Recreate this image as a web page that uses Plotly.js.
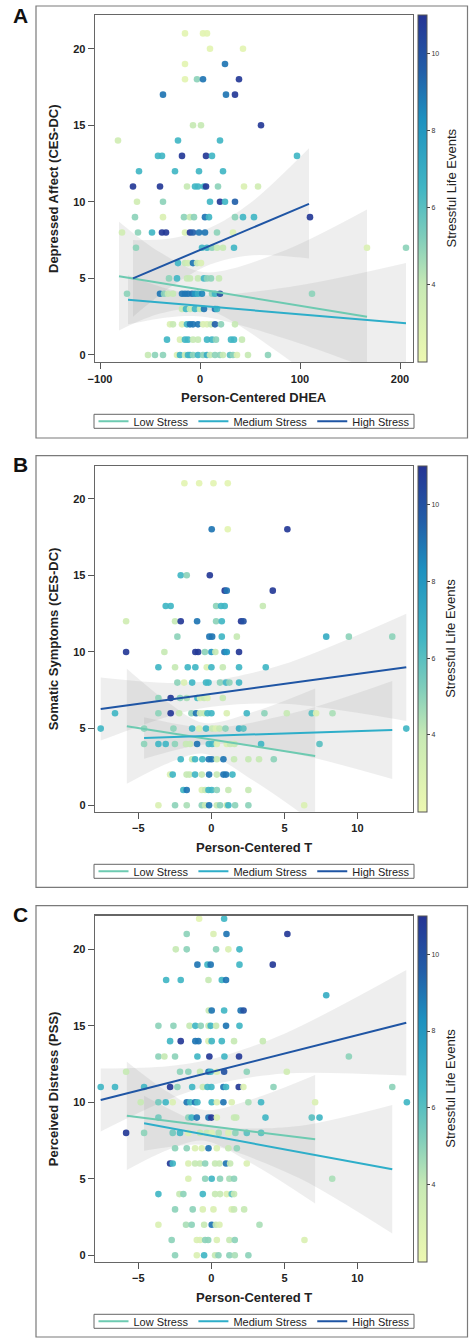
<!DOCTYPE html>
<html><head><meta charset="utf-8">
<script src="https://cdn.plot.ly/plotly-3.0.1.min.js"></script>
<style>html,body{margin:0;padding:0;background:#fff}#chart{width:469px;height:1338px}</style>
</head><body><div id="chart"></div>
<script>
const W = 469, H = 1338;
const FONT = 'Liberation Sans, Arial, Helvetica, sans-serif';

const stressGroups = ['Low Stress', 'Medium Stress', 'High Stress'];
const groupColors = ['#6dcab1', '#2eaec9', '#1f55a4'];
const panelLetters = ['A', 'B', 'C'];
const yTitles = ['Depressed Affect (CES-DC)', 'Somatic Symptoms (CES-DC)', 'Perceived Distress (PSS)'];
const xTitles = ['Person-Centered DHEA', 'Person-Centered T', 'Person-Centered T'];
const colorbarTitle = 'Stressful Life Events';
const xTicksA = [-100, 0, 100, 200];
const xTicksBC = [-5, 0, 5, 10];
const yTicks = [0, 5, 10, 15, 20];
const cbTicks = [4, 6, 8, 10];

// [x, y, stressful life events]
const pointsA = [
[-15,21,2.5],[3,21,2.5],[7,21,2.5],
[10,20,2.5],[43,20,2.5],
[-15,19,2.5],[25,19,9],
[-15,18,2.5],[-3,18,5],[3,18,9],[39,18,10.8],
[-37,17,9],[26,17,9],[35,17,10.8],
[-7,15,4],[1,15,4],[61,15,10.8],
[-82,14,3.5],[-22,14,6.5],[20,14,6.5],
[-42,13,6.5],[-38,13,6.5],[-18,13,10.8],[6,13,10.8],[12,13,6.5],[97,13,6.5],
[-61,12,6.5],[-25,12,6.5],[-1,12,6.5],[23,12,6.5],
[-67,11,10.8],[-40,11,10.8],[-13,11,4],[-5,11,6.5],[-2,11,6.5],[4,11,6.5],[6,11,10.8],[18,11,5],[44,11,3],[58,11,3.5],
[-63,10,3.5],[-37,10,5],[10,10,6.5],[20,10,10.8],[25,10,6.5],[35,10,9.5],
[-65,9,5],[-37,9,3],[-16,9,5],[-10,9,4],[-6,9,5],[5,9,9],[9,9,6.5],[35,9,5],[43,9,6.5],[54,9,6.5],[110,9,10.8],
[-78,8,3.5],[-62,8,5],[-48,8,6.5],[-38,8,10.8],[-34,8,10.8],[-15,8,3],[-10,8,10.8],[-7,8,9.5],[-1,8,9],[5,8,9],[17,8,5],[33,8,3],
[-64,7,5],[2,7,6.5],[7,7,6.5],[12,7,5],[17,7,4],[23,7,4],[34,7,6.5],[167,7,3],[206,7,5],
[-22,6,6.5],[-15,6,4],[-12,6,3.5],[-7,6,9],[-3,6,4],[1,6,3],
[-31,5,5],[-23,5,6.5],[-13,5,4],[-10,5,4],[-2,5,4],[4,5,6.5],[7,5,5],[11,5,5],[19,5,4],
[-73,4,5],[-40,4,9],[-36,4,5],[-32,4,4],[-27,4,4],[-18,4,9],[-15,4,9],[-12,4,9],[-8,4,9],[-5,4,8],[-2,4,7],[2,4,8.5],[12,4,5],[15,4,6.5],[20,4,10],[112,4,5],
[-18,3,4],[-14,3,6.5],[-10,3,4],[-5,3,6.5],[0,3,4],[4,3,9],[15,3,9],[17,3,6.5],
[-30,2,3],[-27,2,4],[-18,2,3],[-13,2,6.5],[-10,2,9],[-7,2,9],[-2,2,9],[3,2,3],[7,2,3],[11,2,4],[15,2,9.5],[21,2,5],[35,2,4],
[-33,1,6.5],[-20,1,3],[-15,1,6.5],[-12,1,6.5],[-7,1,4],[-2,1,4],[7,1,6.5],[12,1,6.5],[16,1,5],[31,1,6.5],[34,1,6.5],[42,1,4],
[-52,0,4],[-45,0,5],[-37,0,5],[-23,0,3],[-20,0,6.5],[-15,0,4],[-12,0,6.5],[-10,0,6.5],[-7,0,5],[-2,0,6.5],[3,0,5],[7,0,7],[10,0,4],[15,0,5],[20,0,5],[23,0,4],[30,0,6],[33,0,5],[37,0,3],[48,0,4],[68,0,5]
];

const pointsB = [
[-1.85,21,2.5],[-0.84,21,2.5],[0.14,21,2.5],[1.12,21,2.5],
[0.02,18,9],[1.12,18,2.5],[5.2,18,10.8],
[-2.1,15,6.5],[-1.69,15,5],[-0.11,15,10.8],
[0.91,14,10.8],[1.05,14,9],[4.2,14,10.8],
[-3.13,13,6.5],[-2.79,13,6.5],[0.32,13,5],[0.66,13,6.5],[0.91,13,6.5],[3.52,13,4],
[-5.84,12,3.5],[-2.49,12,4],[-2.1,12,10.8],[-0.98,12,9],[0.32,12,5],[0.71,12,6.5],[2.03,12,10.8],[2.19,12,10],
[-2.33,11,5],[-0.14,11,9],[0.05,11,9],[0.71,11,6.5],[1.74,11,4],[7.86,11,7],[9.41,11,5],[12.38,11,5],
[-5.84,10,10.8],[-3.22,10,4],[-1.1,10,10.8],[-0.91,10,10.8],[-0.45,10,5],[0,10,8],[0.27,10,4],[0.89,10,9],[1.05,10,8],[1.89,10,10.8],
[-3.63,9,6.5],[-2.49,9,4],[-1.62,9,6.5],[-1.1,9,6.5],[-0.32,9,3],[0,9,6.5],[0.78,9,4],[1.89,9,6.5],[3.72,9,6.5],
[-2.33,8,5],[-1.87,8,3],[-1.32,8,6.5],[-0.37,8,6.5],[-0.2,8,6.5],[0.59,8,5],[1.0,8,6.5],[1.23,8,5],[1.89,8,6.5],
[-3.63,7,5],[-2.79,7,10.8],[-2.15,7,5],[-1.69,7,4.5],[-0.96,7,6.5],[-0.78,7,3],[-0.5,7,4],[-0.27,7,3],[0.78,7,4],
[-6.6,6,6.5],[-3.63,6,5],[-2.79,6,10.8],[-2.21,6,4],[-1.37,6,5],[-1.05,6,9],[-0.78,6,4],[-0.5,6,4],[-0.27,6,6.5],[0,6,6.5],[1.05,6,3],[2.42,6,6.5],[3.63,6,5],[5.16,6,4],[6.87,6,6],[7.17,6,3],[8.29,6,4.5],
[-7.58,5,6.5],[-4.61,5,5],[-2.6,5,5],[-1.32,5,6.5],[-0.84,5,3],[-0.37,5,6.5],[0.05,5,4],[0.3,5,3],[0.55,5,4],[0.96,5,5],[1.89,5,7],[2.19,5,6],[13.34,5,6.5],
[-4.61,4,5],[-3.63,4,6.5],[-3.13,4,6.5],[-2.5,4,5],[-1.74,4,4],[-1.46,4,4],[-0.98,4,9],[-0.18,4,6.5],[0.05,4,6.5],[0.37,4,3],[1.05,4,3],[1.28,4,4],[1.58,4,4],[3.4,4,6.5],[7.4,4,6],
[-2.1,3,6.5],[-1.32,3,4],[-1.12,3,6.5],[-0.62,3,6.5],[-0.18,3,9],[0.02,3,9],[0.37,3,4],[0.82,3,9],[1.55,3,4],[2.53,3,4],[3.26,3,4],[4.27,3,5],
[-2.83,2,3],[-2.65,2,6.5],[-1.7,2,4],[-1.5,2,4],[-1.12,2,6.5],[-0.66,2,4],[-0.16,2,9],[0.37,2,4],[0.82,2,9],[1.0,2,9],[1.44,2,6.5],
[-1.92,1,6.5],[-1.69,1,9],[-0.66,1,3],[-0.43,1,4],[-0.2,1,6.5],[0.02,1,6.5],[0.37,1,5],[1.16,1,4],[2.53,1,4],
[-3.63,0,3],[-2.49,0,5],[-1.69,0,4.5],[-0.66,0,5],[-0.43,0,4],[-0.16,0,9],[0.37,0,4],[0.59,0,5],[1.05,0,4],[1.16,0,6.5],[1.62,0,5],[2.53,0,5],[6.35,0,3]
];

const pointsC = [
[-0.84,22,2.5],[0.87,22,6.5],
[-1.69,21,5],[0.14,21,3],[1.03,21,9],[5.2,21,10.8],
[-2.44,20,4],[-1.69,20,5],[0.32,20,5],[1.16,20,3],[1.92,20,6.5],
[-0.96,19,9],[-0.27,19,6.5],[-0.05,19,9],[1.92,19,6.5],[4.2,19,10.8],
[-3.1,18,6.5],[-2.1,18,6.5],[-0.2,18,4],[0.71,18,6.5],[1.0,18,9],
[7.86,17,7],
[-0.18,16,4],[0.02,16,9],[0.87,16,6.5],[2.0,16,9],[2.2,16,10],
[-3.63,15,5],[-2.6,15,5],[-1.5,15,4],[-1.1,15,6.5],[-0.73,15,5],[-0.2,15,4],[-0.05,15,6.5],[0.32,15,4],[1.0,15,9],[1.92,15,6.5],
[-2.83,14,6.5],[-2.1,14,10.8],[-1.1,14,9],[-0.89,14,9],[-0.2,14,3],[0.02,14,6.5],[0.71,14,6.5],[1.55,14,4],[3.52,14,4],
[-3.63,13,5],[-3.22,13,4],[-2.49,13,5],[-0.96,13,6.5],[-0.14,13,10.8],[0.89,13,6.5],[1.89,13,10.8],[9.41,13,5],
[-5.84,12,4],[-2.15,12,5],[-1.58,12,5],[-0.78,12,4],[-0.2,12,9],[-0.05,12,6.5],[0.37,12,3],[0.87,12,10],[2.42,12,5],[5.16,12,3.5],
[-7.58,11,6.5],[-6.6,11,6.5],[-4.61,11,6.5],[-2.83,11,10.8],[-2.33,11,5],[-1.32,11,6.5],[-0.59,11,4],[-0.27,11,6.5],[0.0,11,6.5],[0.82,11,9],[1.0,11,6.5],[1.87,11,10.8],[2.19,11,3],[4.25,11,5],[12.38,11,5],
[-4.84,10,4],[-3.63,10,5.5],[-3.13,10,6.5],[-2.65,10,3],[-1.69,10,9],[-1.45,10,6.5],[-1.12,10,9],[-0.96,10,6.5],[0.02,10,6.5],[0.37,10,3],[0.82,10,9],[1.39,10,3],[2.53,10,4.5],[3.4,10,6.5],[7.1,10,3],[13.38,10,6.5],
[-3.63,9,5.5],[-1.58,9,5],[-1.35,9,6.5],[-1.0,9,9],[-0.2,9,9],[0.0,9,10.8],[0.37,9,3],[1.55,9,4],[1.7,9,4],[3.7,9,6.5],[6.87,9,6],[7.4,9,6.5],
[-5.84,8,10.8],[-4.61,8,5],[-2.65,8,5.5],[-2.15,8,6.5],[-1.58,8,3],[-0.78,8,4],[-0.32,8,4],[0.02,8,3],[0.5,8,4.5],[1.16,8,3],[1.64,8,5],[2.42,8,6],[3.4,8,6],
[-2.49,7,5],[-1.69,7,5],[-1.12,7,3],[-0.66,7,3],[-0.2,7,9],[0.37,7,3],[1.16,7,4],[1.74,7,5],
[-2.83,6,10.8],[-2.65,6,6.5],[-1.58,6,3],[-1.12,6,4],[-0.78,6,4],[-0.43,6,5],[0.25,6,4],[0.55,6,4],[1.0,6,9],[1.28,6,4],[2.42,6,3],
[-1.58,5,3],[-0.43,5,5],[0.02,5,6.5],[0.59,5,5],[1.23,5,4.5],[1.55,5,5],[8.27,5,4.5],
[-3.63,4,6.5],[-2.19,4,4],[-1.92,4,5],[-0.59,4,6.5],[0.25,4,4],[0.59,4,4],[1.05,4,3],[1.39,4,6],[1.55,4,4],
[-2.49,3,5],[-1.28,3,5],[-0.59,3,3],[0.14,3,3],[1.39,3,3],[1.55,3,4],[2.24,3,4],
[-3.63,2,3],[-1.74,2,4.5],[-1.35,2,5],[-0.5,2,4],[0.02,2,9],[0.3,2,4],[0.55,2,3],[3.29,2,4.5],
[-2.72,1,5],[-1.0,1,3],[-0.78,1,3],[-0.43,1,5],[-0.22,1,5],[0.37,1,3],[1.23,1,4],[1.6,1,5],[6.37,1,3],
[-2.49,0,5],[-1.0,0,3],[-0.5,0,6.5],[0.25,0,4],[0.48,0,5],[1.23,0,5],[1.6,0,4.5],[2.53,0,5]
];

// Fitted lines per group (Low, Medium, High): endpoints
const fitA_x = [[-81, 167], [-72, 206], [-67, 109]];
const fitA_y = [[5.14, 2.5], [3.6, 2.07], [5.0, 9.87]];
const fitB_x = [[-5.79, 7.1], [-4.61, 12.38], [-7.58, 13.34]];
const fitB_y = [[5.15, 3.22], [4.39, 4.91], [6.28, 9.0]];
const fitC_x = [[-5.79, 7.1], [-4.61, 12.38], [-7.58, 13.34]];
const fitC_y = [[9.12, 7.58], [8.63, 5.62], [10.15, 15.2]];

// Confidence bands per group
const bandA_x  = [[-81,-40,5,80,167], [-72,-30,5,100,206], [-67,-30,10,50,109]];
const bandA_hi = [[8.7,6.7,5.4,6.7,9.5], [5.2,4.27,3.88,4.55,6.0], [7.5,7.6,8.3,9.9,13.5]];
const bandA_lo = [[1.6,2.7,3.0,0.1,-4.5], [2.0,2.47,2.48,0.75,-1.83], [2.5,4.4,5.9,6.5,6.3]];
const bandB_x  = [[-5.79,-3,-0.5,3,7.1], [-4.61,-1,1,6,12.38], [-7.58,-3,0,5,13.34]];
const bandB_hi = [[8.9,6.73,5.36,6.13,7.62], [5.74,5.1,5.11,6.11,8.11], [8.34,7.98,8.12,9.22,12.5]];
const bandB_lo = [[1.4,2.73,3.36,1.53,-1.18], [3.04,3.9,4.01,3.31,1.71], [4.22,5.78,6.42,6.62,5.5]];
const bandC_x  = [[-5.79,-3,-0.5,3,7.1], [-4.61,-1,1,6,12.38], [-7.58,-3,0,5,13.34]];
const bandC_hi = [[12.66,10.69,9.49,10.27,11.78], [10.43,8.74,8.34,8.45,9.82], [12.21,12.36,12.83,14.49,18.65]];
const bandC_lo = [[5.58,6.89,7.49,5.87,3.38], [6.83,7.24,6.94,5.05,1.42], [8.09,10.16,11.13,11.89,11.75]];

const colorScale = [[0,'#edf8b1'],[0.222,'#c7e9b4'],[0.36,'#7fcdbb'],[0.5,'#41b6c4'],[0.7,'#1d91c0'],[0.84,'#225ea8'],[1,'#253494']];

// pixel geometry helpers
const px = v => v / W;
const py = v => 1 - v / H;
const plotTop = [15, 466, 915.7];
const plotBot = [362, 811.7, 1261.7];
const xRanges = [[-105, 213], [-7.97, 13.8], [-7.97, 13.8]];
const yRanges = [[-0.46, 22.2], [-0.42, 22.13], [-0.42, 22.2]];
const boxTop = [6, 455.7, 905.7];
const boxBot = [438, 887.3, 1337];
const legendMid = [421.3, 871.3, 1321.3];
const xTitleY = [397, 847.3, 1297.3];

const panels = [
  {pts: pointsA, fx: fitA_x, fy: fitA_y, bx: bandA_x, bh: bandA_hi, bl: bandA_lo, xt: xTicksA},
  {pts: pointsB, fx: fitB_x, fy: fitB_y, bx: bandB_x, bh: bandB_hi, bl: bandB_lo, xt: xTicksBC},
  {pts: pointsC, fx: fitC_x, fy: fitC_y, bx: bandC_x, bh: bandC_hi, bl: bandC_lo, xt: xTicksBC}
];

const traces = [];
const layout = {
  width: W, height: H, margin: {l:0, r:0, t:0, b:0},
  paper_bgcolor: '#fff', plot_bgcolor: '#fff',
  font: {family: FONT, color: '#222'},
  showlegend: true,
  annotations: [], shapes: []
};

panels.forEach((p, i) => {
  const s = i === 0 ? '' : String(i + 1);
  const xa = 'x' + s, ya = 'y' + s;
  const legName = i === 0 ? 'legend' : 'legend' + (i + 1);
  // confidence bands: lower edge, then upper edge filled down to it
  for (let g = 0; g < 3; g++) {
    traces.push({type:'scatter', mode:'lines', x: p.bx[g], y: p.bl[g], xaxis: xa, yaxis: ya,
      line:{width:0, shape:'spline', smoothing:0.9}, hoverinfo:'skip', showlegend:false});
    traces.push({type:'scatter', mode:'lines', x: p.bx[g], y: p.bh[g], xaxis: xa, yaxis: ya,
      fill:'tonexty', fillcolor:'rgba(140,140,140,0.15)',
      line:{width:0, shape:'spline', smoothing:0.9}, hoverinfo:'skip', showlegend:false});
  }
  // points
  traces.push({type:'scatter', mode:'markers', xaxis: xa, yaxis: ya,
    x: p.pts.map(d => d[0]), y: p.pts.map(d => d[1]),
    marker: {size: 6.6, color: p.pts.map(d => d[2]), colorscale: colorScale, cmin: 2, cmax: 11,
      opacity: 0.92, line: {width: 0},
      showscale: true,
      colorbar: {x: px(418), xanchor:'left', xpad:0, ypad:0,
        y: py((plotTop[i] + plotBot[i]) / 2), yanchor:'middle',
        lenmode:'pixels', len: plotBot[i] - plotTop[i], thickness: 9,
        outlinewidth: 1, outlinecolor:'#555',
        tickmode:'array', tickvals: cbTicks, ticks:'outside', ticklen:3, tickcolor:'#444',
        tickfont:{size:7, color:'#333', family: FONT}, title:{text:''}}},
    showlegend:false, hoverinfo:'skip'});
  // fitted lines
  for (let g = 0; g < 3; g++) {
    traces.push({type:'scatter', mode:'lines', x: p.fx[g], y: p.fy[g], xaxis: xa, yaxis: ya,
      name: stressGroups[g], legend: legName, line:{color: groupColors[g], width: 2}});
  }
  const axisCommon = {showline:true, mirror:true, linecolor:'#666', linewidth:1.3,
    ticks:'outside', ticklen:6, tickcolor:'#555', tickwidth:1, showgrid:false, zeroline:false,
    tickfont:{size:11, weight:'bold', color:'#222', family: FONT}, fixedrange:true};
  layout['xaxis' + s] = Object.assign({}, axisCommon, {domain:[px(95), px(413)], range: xRanges[i],
    tickmode:'array', tickvals: p.xt, anchor: ya});
  layout['yaxis' + s] = Object.assign({}, axisCommon, {domain:[py(plotBot[i]), py(plotTop[i])], range: yRanges[i],
    tickmode:'array', tickvals: yTicks, anchor: xa});
  layout[legName] = {orientation:'h', traceorder:'normal', x: px(93.5), xanchor:'left', y: py(legendMid[i]), yanchor:'middle',
    font:{size:11, color:'#222', family: FONT}, bgcolor:'rgba(0,0,0,0)', borderwidth:0, itemwidth:30};
  // outer panel frame
  layout.shapes.push({type:'rect', xref:'paper', yref:'paper', x0: px(36), x1: px(467.5), y0: py(boxBot[i]), y1: py(boxTop[i]),
    line:{color:'#7a7a7a', width:1.2}, fillcolor:'rgba(0,0,0,0)', layer:'below'});
  // legend frame
  layout.shapes.push({type:'rect', xref:'paper', yref:'paper', x0: px(94), x1: px(414), y0: py(legendMid[i] + 7), y1: py(legendMid[i] - 7),
    line:{color:'#666', width:1}, fillcolor:'rgba(0,0,0,0)'});
  // panel letter
  layout.annotations.push({text: panelLetters[i], xref:'paper', yref:'paper', x: px(20.5), y: py(boxTop[i] + 9),
    showarrow:false, xanchor:'center', yanchor:'middle', font:{size:21, weight:'bold', color:'#111', family: FONT}});
  // y title
  layout.annotations.push({text: yTitles[i], xref:'paper', yref:'paper', x: px(53.5), y: py((plotTop[i] + plotBot[i]) / 2),
    textangle:-90, showarrow:false, xanchor:'center', yanchor:'middle', font:{size:13, weight:'bold', color:'#222', family: FONT}});
  // x title
  layout.annotations.push({text: xTitles[i], xref:'paper', yref:'paper', x: px(254), y: py(xTitleY[i]),
    showarrow:false, xanchor:'center', yanchor:'middle', font:{size:13, weight:'bold', color:'#222', family: FONT}});
  // colorbar title
  layout.annotations.push({text: colorbarTitle, xref:'paper', yref:'paper', x: px(451), y: py((plotTop[i] + plotBot[i]) / 2),
    textangle:-90, showarrow:false, xanchor:'center', yanchor:'middle', font:{size:13, color:'#222', family: FONT}});
});

Plotly.newPlot('chart', traces, layout, {staticPlot:true, displayModeBar:false});
</script></body></html>
